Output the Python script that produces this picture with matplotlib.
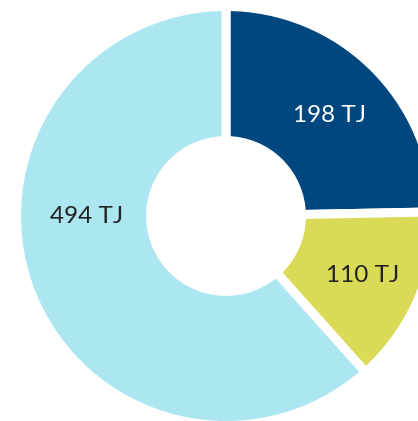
import matplotlib
matplotlib.use("Agg")
import matplotlib.pyplot as plt

categories = ["A", "B", "C"]
values = [198, 110, 494]
labels = ["198 TJ", "110 TJ", "494 TJ"]
colors = ["#01477F", "#D9DB57", "#ACE6F0"]
text_colors = ["white", "#222222", "#222222"]

plt.rcParams['font.family'] = ['Lato', 'DejaVu Sans']

fig = plt.figure(figsize=(4.18, 4.21), dpi=100)
ax = fig.add_axes([0, 0, 1, 1])

wedges, texts = ax.pie(
    values, labels=labels, colors=colors, startangle=90, counterclock=False,
    radius=1.0, labeldistance=0.7,
    wedgeprops=dict(width=0.64, edgecolor="white", linewidth=6.5),
    textprops=dict(fontsize=17.5, ha="center", va="center"),
)
for t, c in zip(texts, text_colors):
    t.set_color(c)
    t.set_ha("center")
    t.set_va("center")
texts[0].set_position((0.496, 0.482))
texts[1].set_position((0.652, -0.286))
texts[2].set_position((-0.666, 0.0))

cx, cy, s = 226, 216, 209.5
W, H = 418, 421
ax.set_xlim(-cx / s, (W - cx) / s)
ax.set_ylim(-(H - cy) / s, cy / s)
ax.set_aspect("auto")
ax.axis("off")

fig.savefig("out.png", dpi=100)
